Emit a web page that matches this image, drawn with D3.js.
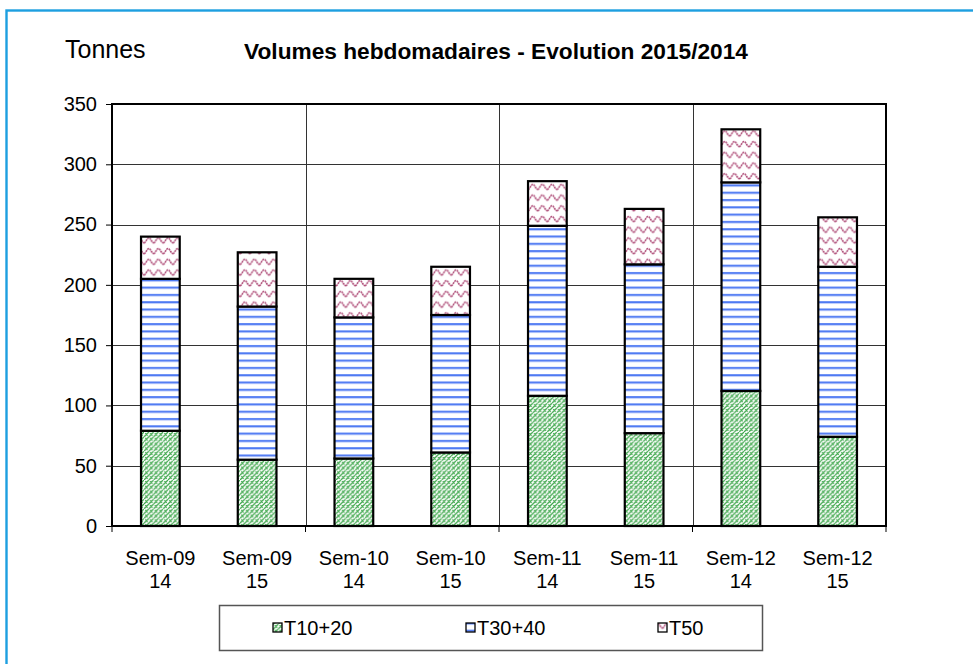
<!DOCTYPE html>
<html>
<head>
<meta charset="utf-8">
<script src="https://cdn.jsdelivr.net/npm/d3@7"></script>
<style>
  body { margin: 0; background: #fff; }
  text { font-family: "Liberation Sans", Arial, sans-serif; }
</style>
</head>
<body>
<script>
// data
const weeks = ["Sem-09", "Sem-09", "Sem-10", "Sem-10", "Sem-11", "Sem-11", "Sem-12", "Sem-12"];
const years = ["14", "15", "14", "15", "14", "15", "14", "15"];
const t1020 = [79, 55, 56, 61, 108, 77, 112, 74];
const t3040 = [126, 127, 117, 114, 141, 140, 173, 141];
const t50 = [35, 45, 32, 40, 37, 46, 44, 41];
const seriesNames = ["T10+20", "T30+40", "T50"];
const yTicks = [0, 50, 100, 150, 200, 250, 300, 350];

const width = 973, height = 664;
const plotLeft = 112, plotRight = 886, plotTop = 104, plotBottom = 526;

const svg = d3.select("body").append("svg")
  .attr("width", width).attr("height", height);

// fill patterns
const defs = svg.append("defs");
const green = defs.append("pattern").attr("id", "pGreen")
  .attr("patternUnits", "userSpaceOnUse").attr("width", 8).attr("height", 8)
  .attr("patternTransform", "scale(1.2)");
green.append("rect").attr("width", 8).attr("height", 8).attr("fill", "#fff");
green.append("path")
  .attr("d", "M0,4 L4,0 M0,8 L8,0 M4,8 L8,4 M1,1 L3,3 M5,5 L7,7 M5,1 L7,3 M1,5 L3,7")
  .attr("stroke", "#3aa548").attr("stroke-width", 1.05).attr("fill", "none");

const blue = defs.append("pattern").attr("id", "pBlue")
  .attr("patternUnits", "userSpaceOnUse").attr("width", 8).attr("height", 7.3);
blue.append("rect").attr("width", 8).attr("height", 7.3).attr("fill", "#fff");
blue.append("rect").attr("y", 2).attr("width", 8).attr("height", 1.6).attr("fill", "#3d6cf2");
blue.append("rect").attr("y", 3.6).attr("width", 8).attr("height", 1).attr("fill", "#b9c9fb");

const pink = defs.append("pattern").attr("id", "pPink")
  .attr("patternUnits", "userSpaceOnUse").attr("width", 9.6).attr("height", 10.7);
pink.append("rect").attr("width", 9.6).attr("height", 10.7).attr("fill", "#fff");
pink.append("path")
  .attr("d", "M0,7.5 C1.8,7.5 2.8,2.5 4.8,2.5 C6.8,2.5 7.8,7.5 9.6,7.5")
  .attr("stroke", "#b04f7a").attr("stroke-width", 1.5).attr("fill", "none")
  .attr("stroke-dasharray", "2 0.6");

const fills = ["url(#pGreen)", "url(#pBlue)", "url(#pPink)"];

// outer frame
svg.append("rect")
  .attr("x", 6.5).attr("y", 10.5).attr("width", 1000).attr("height", 700)
  .attr("fill", "none").attr("stroke", "#1d9fe0").attr("stroke-width", 2.4);

// scales
const x = d3.scaleBand().domain(d3.range(weeks.length)).range([plotLeft, plotRight])
  .paddingInner(0.6).paddingOuter(0.3);
const y = d3.scaleLinear().domain([0, 350]).range([plotBottom, plotTop]);

// horizontal grid
svg.append("g").selectAll("line")
  .data(yTicks.filter(v => v > 0 && v < 350))
  .enter().append("line")
  .attr("x1", plotLeft).attr("x2", plotRight)
  .attr("y1", d => Math.round(y(d)) + 0.5).attr("y2", d => Math.round(y(d)) + 0.5)
  .attr("stroke", "#333").attr("stroke-width", 1);

// vertical grid between every pair of weeks
const step = x.step();
const sepX = [2, 4, 6].map(i => plotLeft + i * step);
svg.append("g").selectAll("line")
  .data(sepX).enter().append("line")
  .attr("x1", d => Math.round(d) + 0.5).attr("x2", d => Math.round(d) + 0.5)
  .attr("y1", plotTop).attr("y2", plotBottom)
  .attr("stroke", "#333").attr("stroke-width", 1);

// y axis
const yAxis = svg.append("g").attr("transform", `translate(${plotLeft},0)`)
  .call(d3.axisLeft(y).tickValues(yTicks).tickSize(6).tickPadding(9));
yAxis.select(".domain").remove();
yAxis.selectAll("line").attr("stroke", "#000");
yAxis.selectAll("text").style("font-size", "20px").attr("fill", "#000")
  .style("font-family", '"Liberation Sans", Arial, sans-serif');

// x ticks every two weeks
svg.append("g").selectAll("line")
  .data([0, 2, 4, 6, 8].map(i => plotLeft + i * step))
  .enter().append("line")
  .attr("x1", d => d).attr("x2", d => d)
  .attr("y1", plotBottom).attr("y2", plotBottom + 6)
  .attr("stroke", "#000").attr("stroke-width", 1);

// stacked bars
const rows = weeks.map((w, i) => ({ i, T1: t1020[i], T2: t3040[i], T3: t50[i] }));
const stack = d3.stack().keys(["T1", "T2", "T3"])(rows);
stack.forEach((layer, k) => {
  svg.append("g").selectAll("rect")
    .data(layer).enter().append("rect")
    .attr("x", d => x(d.data.i))
    .attr("y", d => y(d[1]))
    .attr("width", x.bandwidth())
    .attr("height", d => y(d[0]) - y(d[1]))
    .attr("fill", fills[k])
    .attr("stroke", "#000").attr("stroke-width", 2.2);
});

// plot frame
svg.append("rect")
  .attr("x", plotLeft).attr("y", plotTop)
  .attr("width", plotRight - plotLeft).attr("height", plotBottom - plotTop)
  .attr("fill", "none").attr("stroke", "#000").attr("stroke-width", 2);

// x labels
const xl = svg.append("g");
weeks.forEach((w, i) => {
  const cx = x(i) + x.bandwidth() / 2;
  xl.append("text").text(w).attr("x", cx).attr("y", 565)
    .attr("text-anchor", "middle").style("font-size", "20px");
  xl.append("text").text(years[i]).attr("x", cx).attr("y", 588)
    .attr("text-anchor", "middle").style("font-size", "20px");
});

// titles
svg.append("text").text("Tonnes")
  .attr("x", 65).attr("y", 58).style("font-size", "25px");
svg.append("text").text("Volumes hebdomadaires - Evolution 2015/2014")
  .attr("x", 496).attr("y", 59).attr("text-anchor", "middle")
  .style("font-size", "22.7px").style("font-weight", "bold");

// legend
svg.append("rect")
  .attr("x", 219.5).attr("y", 605.5).attr("width", 543).attr("height", 45)
  .attr("fill", "#fff").attr("stroke", "#555").attr("stroke-width", 1.5);
const legX = [273, 466, 658];
seriesNames.forEach((name, k) => {
  svg.append("rect")
    .attr("x", legX[k]).attr("y", 623).attr("width", 9).attr("height", 9)
    .attr("fill", fills[k]).attr("stroke", "#000").attr("stroke-width", 1.3);
  svg.append("text").text(name)
    .attr("x", legX[k] + 11).attr("y", 635)
    .style("font-size", "20px");
});
</script>
</body>
</html>
